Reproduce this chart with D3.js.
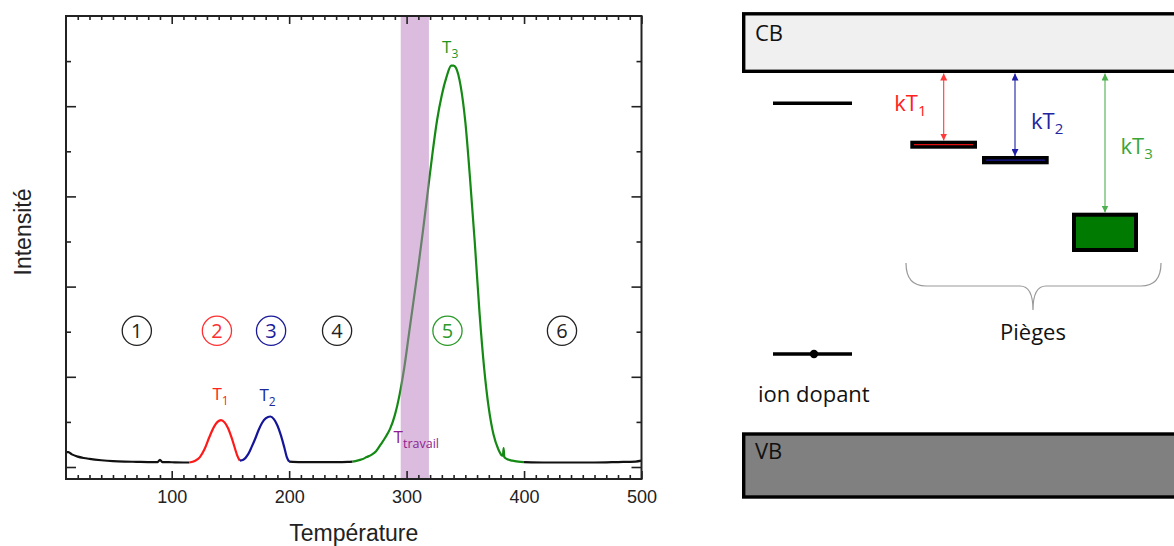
<!DOCTYPE html>
<html><head><meta charset="utf-8">
<script src="https://cdn.jsdelivr.net/npm/d3@7"></script>
<style>body{margin:0;background:#fff;} svg{display:block;}</style>
</head><body><svg id="c" width="1174" height="546"></svg>
<script>
// ---------- data ----------
const temperature = [10,12,15,20,25,30,40,50,60,70,80,88,90,92,100,110,115,
  120,124,128,132,136,139,142,145,148,151,154,156,158,
  161,165,168,171,174,177,180,184,187,190,193,196,198,200,
  210,220,230,240,250,254,
  258,262,266,270,274,278,282,286,290,294,298,302,306,310,314,318,322,326,330,334,338,340,342,346,350,354,358,362,366,370,374,378,381,382,382.6,383.2,384,387,390,395,400,
  420,440,460,480,495,500];
const intensity = [0.33,0.33,0.28,0.23,0.20,0.18,0.15,0.13,0.12,0.115,0.11,0.11,0.16,0.11,0.105,0.10,0.10,
  0.14,0.22,0.40,0.66,0.89,1.00,1.04,0.99,0.86,0.65,0.40,0.24,0.14,
  0.16,0.28,0.44,0.62,0.82,0.98,1.08,1.12,1.06,0.92,0.70,0.42,0.22,0.12,
  0.11,0.11,0.11,0.11,0.115,0.12,
  0.14,0.17,0.22,0.27,0.35,0.50,0.66,0.85,1.15,1.60,2.20,2.95,3.70,4.45,5.25,6.10,6.95,7.70,8.25,8.65,8.90,8.90,8.85,8.45,7.65,6.40,5.00,3.45,2.20,1.30,0.72,0.40,0.26,0.25,0.42,0.22,0.20,0.16,0.14,0.12,0.11,
  0.10,0.10,0.10,0.11,0.12,0.14];
const segmentBounds = [10,115,158,200,254,400,500];
const segmentColors = ["#111111","#ff1a1a","#15159a","#111111","#148a14","#111111"];
const xMajorTicks = [100,200,300,400,500];
const xMinorTicks = [20,30,40,50,60,70,80,90,110,120,130,140,150,160,170,180,190,210,220,230,240,250,260,270,280,290,310,320,330,340,350,360,370,380,390,410,420,430,440,450,460,470,480,490];
const yMajorTicks = [0,2,4,6,8];
const yMinorTicks = [1,3,5,7,9];
const workBand = [295,319];
const zoneLabels = ["1","2","3","4","5","6"];
const zoneTemps = [70.3,138.5,184.6,240.8,334.8,432.3];
const zoneColors = ["#222222","#ff3030","#1a1a9a","#222222","#2a9a2a","#222222"];
const peakNames = ["1","2","3"];
const peakTemps = [134.7,174.7,330.2];
const peakY = [1.49,1.46,9.17];
const peakColors = ["#ff2020","#1a2a9a","#1f951f"];

// ---------- chart ----------
const svg = d3.select("#c");
const L = 66, R = 641.5, T = 16, B = 479;
const x = d3.scaleLinear().domain([10,500]).range([L,R]);
const y = d3.scaleLinear().domain([-0.266,10]).range([B,T]);
const pts = temperature.map((t,i)=>({t, v:intensity[i]}));

const line = d3.line().x(d=>x(d.t)).y(d=>y(d.v)).curve(d3.curveMonotoneX);
const g = svg.append("g");
for (let s=0; s<segmentColors.length; s++) {
  const seg = pts.filter(p=>p.t>=segmentBounds[s] && p.t<=segmentBounds[s+1]);
  g.append("path").attr("d", line(seg)).attr("fill","none")
    .attr("stroke", segmentColors[s]).attr("stroke-width",2.2).attr("stroke-linejoin","round");
}
// working band
svg.append("rect").attr("x",x(workBand[0])).attr("y",T).attr("width",x(workBand[1])-x(workBand[0]))
  .attr("height",B-T).attr("fill","rgb(183,122,190)").attr("opacity",0.5);

// axes
function styleAxis(sel){ sel.select(".domain").remove(); sel.selectAll("line").attr("stroke","#222").attr("stroke-width",1.6); }
const fontAx = "'Liberation Sans', Arial, sans-serif";
svg.append("g").attr("transform",`translate(0,${B})`)
  .call(d3.axisBottom(x).tickValues(xMajorTicks).tickSize(-8).tickPadding(11).tickFormat(d3.format("d")))
  .call(styleAxis).selectAll("text").attr("font-family",fontAx).attr("font-size",18).attr("fill","#222");
svg.append("g").attr("transform",`translate(0,${B})`)
  .call(d3.axisBottom(x).tickValues(xMinorTicks).tickSize(-4).tickFormat("")).call(styleAxis);
svg.append("g").attr("transform",`translate(0,${T})`)
  .call(d3.axisTop(x).tickValues(xMajorTicks).tickSize(-8).tickFormat("")).call(styleAxis);
svg.append("g").attr("transform",`translate(0,${T})`)
  .call(d3.axisTop(x).tickValues(xMinorTicks).tickSize(-4).tickFormat("")).call(styleAxis);
svg.append("g").attr("transform",`translate(${L},0)`)
  .call(d3.axisLeft(y).tickValues(yMajorTicks).tickSize(-10).tickFormat("")).call(styleAxis);
svg.append("g").attr("transform",`translate(${L},0)`)
  .call(d3.axisLeft(y).tickValues(yMinorTicks).tickSize(-5).tickFormat("")).call(styleAxis);
svg.append("g").attr("transform",`translate(${R},0)`)
  .call(d3.axisRight(y).tickValues(yMajorTicks).tickSize(-10).tickFormat("")).call(styleAxis);
svg.append("g").attr("transform",`translate(${R},0)`)
  .call(d3.axisRight(y).tickValues(yMinorTicks).tickSize(-5).tickFormat("")).call(styleAxis);
svg.append("rect").attr("x",L).attr("y",T).attr("width",R-L).attr("height",B-T)
  .attr("fill","none").attr("stroke","#222").attr("stroke-width",2);

svg.append("text").attr("x",(L+R)/2).attr("y",540.5).attr("text-anchor","middle")
  .attr("font-family",fontAx).attr("font-size",23).attr("fill","#222").text("Température");
svg.append("text").attr("transform",`translate(31,232) rotate(-90)`).attr("text-anchor","middle")
  .attr("font-family",fontAx).attr("font-size",23).attr("fill","#222").text("Intensité");

// zone circles
const fontC = "'Open Sans', sans-serif";
zoneLabels.forEach((n,i)=>{
  const cx = x(zoneTemps[i]), cy = y(3.02);
  svg.append("circle").attr("cx",cx).attr("cy",cy).attr("r",14.6).attr("fill","none")
    .attr("stroke",zoneColors[i]).attr("stroke-width",1.3);
  svg.append("text").attr("x",cx).attr("y",cy+7).attr("text-anchor","middle")
    .attr("font-family",fontC).attr("font-size",20).attr("fill",zoneColors[i]).text(n);
});
// peak labels
peakNames.forEach((n,i)=>{
  const t = svg.append("text").attr("x",x(peakTemps[i])).attr("y",y(peakY[i]))
    .attr("font-family",fontC).attr("font-size",17).attr("fill",peakColors[i]);
  t.append("tspan").text("T");
  t.append("tspan").attr("font-size",12).attr("dy",5).text(n);
});
{
  const t = svg.append("text").attr("x",x(288.9)).attr("y",y(0.54))
    .attr("font-family",fontC).attr("font-size",17).attr("fill","#8e1e92");
  t.append("tspan").text("T");
  t.append("tspan").attr("font-size",12.5).attr("dy",5.5).text("travail");
}

// ---------- band diagram ----------
const d = svg.append("g").attr("font-family",fontC);
d.append("rect").attr("x",743.7).attr("y",13.8).attr("width",460).attr("height",57.5)
  .attr("fill","#f0f0f0").attr("stroke","#000").attr("stroke-width",3.4);
d.append("text").attr("x",755).attr("y",40.7).attr("font-size",22).attr("fill","#111").text("CB");
d.append("rect").attr("x",743.7).attr("y",434).attr("width",460).attr("height",63)
  .attr("fill","#808080").attr("stroke","#000").attr("stroke-width",3.4);
d.append("text").attr("x",755).attr("y",459.3).attr("font-size",22).attr("fill","#111").text("VB");

d.append("line").attr("x1",773).attr("x2",852).attr("y1",103.3).attr("y2",103.3).attr("stroke","#000").attr("stroke-width",3.6);
d.append("line").attr("x1",773).attr("x2",852).attr("y1",354).attr("y2",354).attr("stroke","#000").attr("stroke-width",3.6);
d.append("circle").attr("cx",814).attr("cy",354).attr("r",4.2).attr("fill","#000");
d.append("text").attr("x",758).attr("y",401.5).attr("font-size",22).attr("fill","#111").text("ion dopant");

// traps
d.append("rect").attr("x",910.3).attr("y",140.7).attr("width",66.7).attr("height",8).attr("fill","#000");
d.append("line").attr("x1",914).attr("x2",973).attr("y1",144.6).attr("y2",144.6).attr("stroke","#e01010").attr("stroke-width",1.3);
d.append("rect").attr("x",982).attr("y",156).attr("width",66.7).attr("height",8.3).attr("fill","#000");
d.append("line").attr("x1",986).attr("x2",1045).attr("y1",160.1).attr("y2",160.1).attr("stroke","#1a1a9a").attr("stroke-width",1.3);
d.append("rect").attr("x",1074).attr("y",214.7).attr("width",62).attr("height",35.3)
  .attr("fill","#007a00").attr("stroke","#000").attr("stroke-width",4);

// arrows
const defs = svg.append("defs");
function marker(id,color){
  defs.append("marker").attr("id",id).attr("viewBox","0 0 10 10").attr("refX",10).attr("refY",5)
    .attr("markerWidth",7).attr("markerHeight",7).attr("markerUnits","userSpaceOnUse").attr("orient","auto-start-reverse")
    .append("path").attr("d","M0,0L10,5L0,10Z").attr("fill",color);
}
const arrows = [
  {id:"ar",c:"#ff3a3a",x:943.7,y1:73.5,y2:140.5},
  {id:"ab",c:"#1e1ea6",x:1015,y1:73.5,y2:156},
  {id:"ag",c:"#4daf4d",x:1105,y1:73.5,y2:212.5}
];
arrows.forEach(a=>{
  marker(a.id,a.c);
  d.append("line").attr("x1",a.x).attr("x2",a.x).attr("y1",a.y1).attr("y2",a.y2)
    .attr("stroke",a.c).attr("stroke-width",1.1)
    .attr("marker-start",`url(#${a.id})`).attr("marker-end",`url(#${a.id})`);
});
const kLabels = [
  {x:894.3,y:111,c:"#ff2020",n:"1"},
  {x:1031,y:129.3,c:"#2424a0",n:"2"},
  {x:1120.5,y:154.3,c:"#3aa53a",n:"3"}
];
kLabels.forEach(k=>{
  const t = d.append("text").attr("x",k.x).attr("y",k.y).attr("font-size",22).attr("fill",k.c);
  t.append("tspan").text("kT");
  t.append("tspan").attr("font-size",15).attr("dy",5).text(k.n);
});

// brace
d.append("path").attr("d","M906,263 Q906,286 926,286 L1020,286 Q1033,286 1033,310 Q1033,286 1046,286 L1141,286 Q1161,286 1161,263")
  .attr("fill","none").attr("stroke","#999").attr("stroke-width",1.2);
d.append("text").attr("x",1033).attr("y",339.5).attr("text-anchor","middle").attr("font-size",22).attr("fill","#111").text("Pièges");
</script></body></html>
